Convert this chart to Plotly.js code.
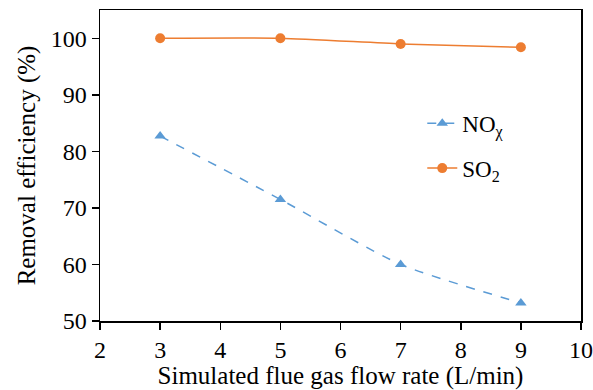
<!DOCTYPE html>
<html><head><meta charset="utf-8">
<script src="https://cdn.plot.ly/plotly-3.0.1.min.js"></script>
<style>body{margin:0;padding:0;background:#fff}#c{width:593px;height:390px}</style>
</head><body><div id="c"></div>
<script>
const flowRate = [3, 5, 7, 9];
const noxEff = [82.7, 71.5, 60.0, 53.2];
const so2Eff = [100.0, 100.0, 99.0, 98.4];
const yTicks = [50, 60, 70, 80, 90, 100];
const xTicks = [2, 3, 4, 5, 6, 7, 8, 9, 10];

const font = "Liberation Serif, Times New Roman, serif";
const traces = [
  {x: flowRate, y: noxEff, name: 'NO<sub>χ</sub>', mode: 'lines+markers', legendgroup: 'a',
   line: {color: '#5B9BD5', width: 1.5, dash: 'dash', shape: 'spline', smoothing: 0.6},
   marker: {symbol: 'triangle-up', size: 10, color: '#5B9BD5'}},
  {x: flowRate, y: so2Eff, name: 'SO<sub>2</sub>', mode: 'lines+markers', legendgroup: 'b',
   line: {color: '#ED7D31', width: 1.5, shape: 'spline', smoothing: 0.6},
   marker: {symbol: 'circle', size: 10, color: '#ED7D31'}}
];
const layout = {
  width: 593, height: 390,
  margin: {l: 100, r: 12, t: 10, b: 69},
  paper_bgcolor: '#fff', plot_bgcolor: '#fff',
  font: {family: font, size: 23, color: '#000'},
  showlegend: true,
  legend: {x: 0.67, y: 0.705, xanchor: 'left', yanchor: 'top', bgcolor: 'rgba(0,0,0,0)',
           font: {family: font, size: 23}, tracegroupgap: 12, traceorder: 'grouped'},
  xaxis: {range: [2, 10], tickvals: xTicks, showgrid: false, zeroline: false,
          showline: true, linecolor: '#000', linewidth: 1.5, mirror: true,
          ticks: 'outside', ticklen: 7, tickcolor: '#000', tickwidth: 1.5,
          tickfont: {family: font, size: 24},
          title: {text: 'Simulated flue gas flow rate (L/min)', font: {family: font, size: 25}, standoff: 2}},
  yaxis: {range: [50, 105], tickvals: yTicks, showgrid: false, zeroline: false,
          showline: true, linecolor: '#000', linewidth: 1.5, mirror: true,
          ticks: 'outside', ticklen: 7, tickcolor: '#000', tickwidth: 1.5,
          tickfont: {family: font, size: 24},
          title: {text: 'Removal efficiency (%)', font: {family: font, size: 25}, standoff: 8}}
};
Plotly.newPlot('c', traces, layout, {displayModeBar: false, staticPlot: true});
</script></body></html>
